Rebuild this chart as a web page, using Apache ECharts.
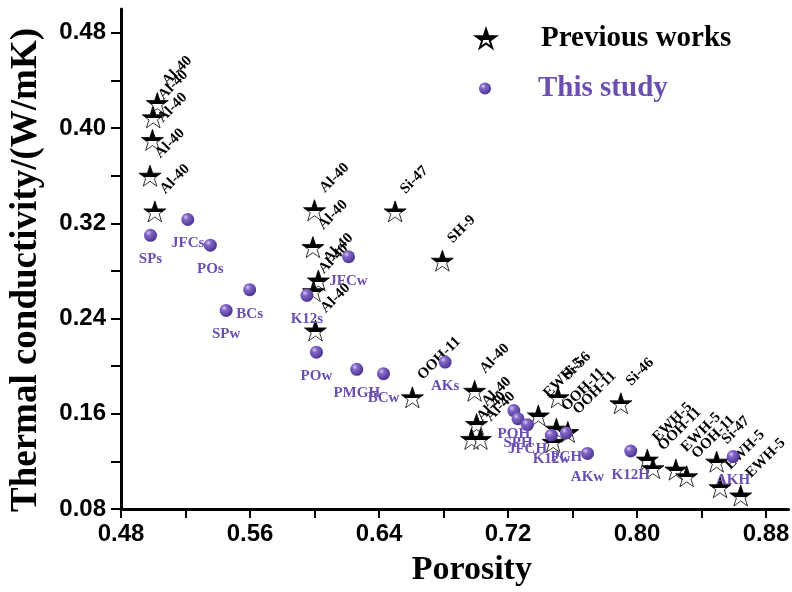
<!DOCTYPE html>
<html>
<head>
<meta charset="utf-8">
<script src="https://cdn.jsdelivr.net/npm/echarts@6/dist/echarts.min.js"></script>
<style>html,body{margin:0;padding:0;background:#fff;}#chart{width:792px;height:592px;}</style>
</head>
<body>
<div id="chart"></div>
<script>
// Previous works (stars)
const prevPorosity = [0.5025,0.500,0.4995,0.498,0.501,0.600,0.599,0.6024,0.5994,0.6006,0.650,0.6793,0.6607,0.6993,0.7005,0.6974,0.7029,0.7388,0.751,0.750,0.7571,0.748,0.790,0.8064,0.8099,0.8241,0.8308,0.8494,0.8515,0.8643];
const prevConductivity = [0.421,0.409,0.390,0.360,0.330,0.331,0.300,0.272,0.263,0.230,0.330,0.2886,0.1738,0.1793,0.1514,0.1389,0.1389,0.1586,0.1738,0.1475,0.1447,0.1364,0.1688,0.1215,0.1143,0.1131,0.1075,0.1198,0.0983,0.0914];
const prevLabels = ['Al-40','Al-40','Al-40','Al-40','Al-40','Al-40','Al-40','Al-40','Al-40','Al-40','Si-47','SH-9','OOH-11','Al-40','Al-40','Al-40','Al-40','EWH-5','Si-56','OOH-11','OOH-11','','Si-46','EWH-5','OOH-11','EWH-5','OOH-11','Si-47','EWH-5','EWH-5'];
// This study (spheres)
const studyPorosity = [0.4983,0.5214,0.5354,0.5598,0.5452,0.5953,0.6211,0.6012,0.6262,0.6428,0.681,0.7236,0.7262,0.7321,0.7469,0.7561,0.7693,0.7961,0.8596];
const studyConductivity = [0.3099,0.3232,0.3016,0.2642,0.2468,0.2595,0.2919,0.2117,0.1973,0.1937,0.2034,0.1627,0.1558,0.1508,0.1420,0.1439,0.1267,0.1287,0.1240];
const studyLabels = ['SPs','JFCs','POs','BCs','SPw','K12s','JFCw','POw','PMGH','BCw','AKs','POH','SPH','JFCH','K12w','PCH','AKw','K12H','AKH'];
// Axis ticks
const xLabelValues = [0.48,0.56,0.64,0.72,0.80,0.88];
const xTickValues = [0.48,0.52,0.56,0.60,0.64,0.68,0.72,0.76,0.80,0.84,0.88];
const yLabelValues = [0.08,0.16,0.24,0.32,0.40,0.48];
const yTickValues = [0.08,0.12,0.16,0.20,0.24,0.28,0.32,0.36,0.40,0.44,0.48];

const STAR = 'path://M50,0 L61.8,35.1 L98.9,35.1 L68.9,57 L80.3,92 L50,70.5 L19.7,92 L31.1,57 L1.1,35.1 L38.2,35.1 Z';
const PURPLE = '#6a4fb0';
const serif = "'Liberation Serif','Times New Roman',serif";
const sans = "'Liberation Sans',Arial,sans-serif";

const starFill = new echarts.graphic.LinearGradient(0,0,0,1,[
  {offset:0,color:'#000'},{offset:0.55,color:'#000'},{offset:0.55,color:'#fff'},{offset:1,color:'#fff'}]);
const sphereFill = new echarts.graphic.RadialGradient(0.35,0.32,0.7,[
  {offset:0,color:'#d6ccf4'},{offset:0.3,color:'#8468c8'},{offset:1,color:'#4b3290'}]);

const prevData = prevPorosity.map((x,i)=>({name:prevLabels[i],value:[x,prevConductivity[i]]}));
const studyData = studyPorosity.map((x,i)=>({name:studyLabels[i],value:[x,studyConductivity[i]]}));

const chart = echarts.init(document.getElementById('chart'),null,{renderer:'canvas'});
chart.setOption({
  animation:false,
  backgroundColor:'#fff',
  grid:{left:110,right:2,top:9,bottom:72,containLabel:false},
  legend:[
    {left:470,top:19,orient:'vertical',itemWidth:20,itemHeight:20,selectedMode:false,
     data:[{name:'Previous works',icon:STAR}],
     textStyle:{fontFamily:serif,fontWeight:'bold',fontSize:29,color:'#000',padding:[0,0,0,40]}},
    {left:474,top:69,orient:'vertical',itemWidth:12,itemHeight:12,selectedMode:false,
     data:[{name:'This study',icon:'circle'}],
     textStyle:{fontFamily:serif,fontWeight:'bold',fontSize:29,color:PURPLE,padding:[0,0,0,42]}}
  ],
  xAxis:{
    type:'value',min:0.48,max:0.894,interval:0.04,
    name:'Porosity',nameLocation:'middle',nameGap:44,
    nameTextStyle:{fontFamily:serif,fontWeight:'bold',fontSize:34,color:'#000',padding:[0,0,0,34]},
    axisLine:{show:true,onZero:false,lineStyle:{color:'#000',width:3}},
    axisTick:{show:true,inside:false,length:9,lineStyle:{color:'#000',width:2},customValues:xTickValues},
    axisLabel:{customValues:xLabelValues,margin:13,fontFamily:sans,fontWeight:'bold',fontSize:24,color:'#000',
      formatter:v=>v.toFixed(2)},
    splitLine:{show:false}
  },
  yAxis:{
    type:'value',min:0.08,max:0.50,interval:0.04,
    name:'Thermal conductivity/(W/mK)',nameLocation:'middle',nameGap:76,
    nameTextStyle:{fontFamily:serif,fontWeight:'bold',fontSize:37,color:'#000',padding:[0,22,0,0]},
    axisLine:{show:true,onZero:false,lineStyle:{color:'#000',width:3}},
    axisTick:{show:true,inside:false,length:10,lineStyle:{color:'#000',width:2},customValues:yTickValues},
    axisLabel:{customValues:yLabelValues,margin:15,fontFamily:sans,fontWeight:'bold',fontSize:24,color:'#000',
      formatter:v=>v.toFixed(2)},
    splitLine:{show:false}
  },
  series:[
    {name:'Previous works',type:'scatter',symbol:STAR,symbolSize:[22,21],data:prevData,
     itemStyle:{color:starFill,borderColor:'#000',borderWidth:0.8,opacity:1},
     label:{show:true,formatter:'{b}',position:[19,-9],rotate:45,align:'left',verticalAlign:'middle',
       fontFamily:serif,fontWeight:'bold',fontSize:15,color:'#000'},
     z:3},
    {name:'This study',type:'scatter',symbol:'circle',symbolSize:13,data:studyData,
     itemStyle:{color:sphereFill,opacity:1},
     label:{show:true,formatter:'{b}',position:'bottom',distance:10,
       fontFamily:serif,fontWeight:'bold',fontSize:15,color:PURPLE},
     z:4}
  ]
});
</script>
</body>
</html>
